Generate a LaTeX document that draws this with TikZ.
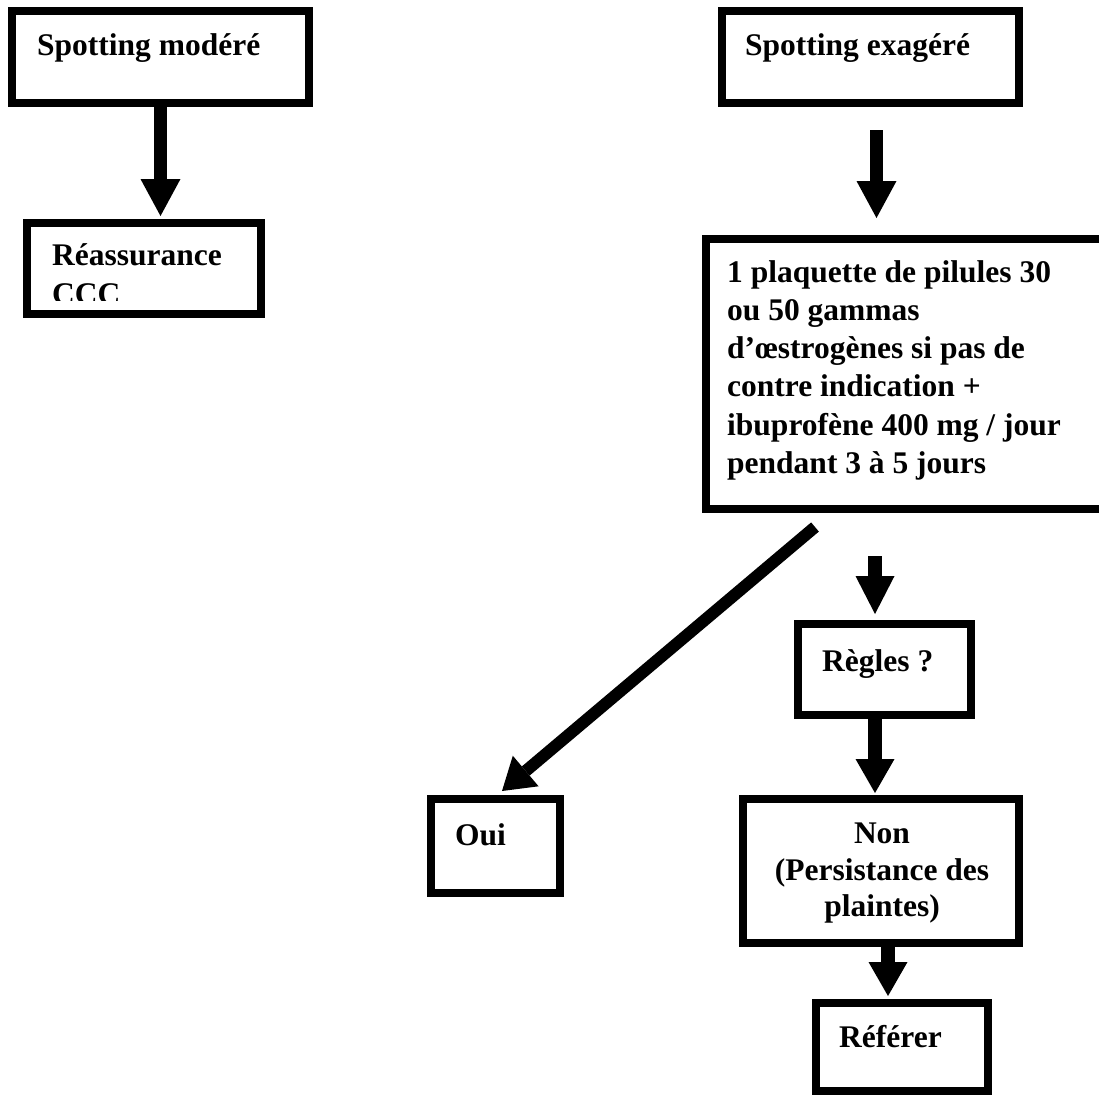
\documentclass[tikz,border=0pt]{standalone}
\usepackage{fontspec}
\setmainfont{Liberation Serif}
\usetikzlibrary{arrows.meta}
\begin{document}
\begin{tikzpicture}[x=1pt,y=-1pt,
  box/.style={draw=black, line width=8pt, rectangle, inner sep=0pt},
  txt/.style={inner sep=0pt, anchor=base west, font=\fontsize{31.5}{37}\selectfont\bfseries},
  ctxt/.style={txt, anchor=base},
  flow/.style={line width=13pt, -{Triangle[width=40pt,length=37pt,line width=0pt]}},
  slant/.style={line width=12pt, -{Triangle[width=40pt,length=31pt,line width=0pt]}}
]
\useasboundingbox (0,0) rectangle (1099,1095);

% boxes
\node[box, minimum width=297pt, minimum height=92pt]  (b1)  at (160.5,57)  {};
\node[box, minimum width=234pt, minimum height=91pt]  (b2)  at (144,268.5) {};
\node[box, minimum width=297pt, minimum height=92pt]  (b3)  at (870.5,57)  {};
\node[box, minimum width=400pt, minimum height=270pt] (b4)  at (906,374)   {};
\node[box, minimum width=173pt, minimum height=91pt]  (rg)  at (884.5,669.5) {};
\node[box, minimum width=129pt, minimum height=94pt]  (oui) at (495.5,846) {};
\node[box, minimum width=276pt, minimum height=144pt] (non) at (881,871)   {};
\node[box, minimum width=172pt, minimum height=88pt]  (ref) at (902,1047)  {};

% texts
\node[txt] (t1) at (37,55) {Spotting modéré};
\node[txt] (t3) at (745,55) {Spotting exagéré};
\node[txt] (t2a) at (52,265) {Réassurance};
\begin{scope}
  \clip (20,215) rectangle (270,300);
  \node[txt] (t2b) at (52,304) {CCC};
\end{scope}
\node[txt] (t4a) at (727,282)   {1 plaquette de pilules 30};
\node[txt] (t4b) at (727,320.3) {ou 50 gammas};
\node[txt] (t4c) at (727,358.6) {d’œstrogènes si pas de};
\node[txt] (t4d) at (727,396.9) {contre indication +};
\node[txt] (t4e) at (727,435.2) {ibuprofène 400 mg / jour};
\node[txt] (t4f) at (727,473.5) {pendant 3 à 5 jours};
\node[txt] (trg) at (822,671) {Règles ?};
\node[txt] (toui) at (455,845) {Oui};
\node[ctxt] (tna) at (882,843) {Non};
\node[ctxt] (tnb) at (882,880) {(Persistance des};
\node[ctxt] (tnc) at (882,916) {plaintes)};
\node[txt] (tref) at (839,1047) {Référer};

% connectors
\draw[flow, shorten >=3pt] (b1.south) -- (b1.south |- b2.north);
\draw[flow, shorten <=23pt, shorten >=17pt]
  ([xshift=6pt]b3.south) -- ([xshift=6pt]b3.south |- b4.north);
\draw[flow, -{Triangle[width=39pt,length=38pt,line width=0pt]}, line width=14pt, shorten <=43pt, shorten >=6pt]
  ([xshift=-9.5pt]rg.north |- b4.south) -- ([xshift=-9.5pt]rg.north);
\draw[flow, -{Triangle[width=39pt,length=34pt,line width=0pt]}, line width=14pt, shorten <=-7pt, shorten >=2pt]
  ([xshift=-9.5pt]rg.south) -- ([xshift=-9.5pt]rg.south |- non.north);
\draw[flow, -{Triangle[width=39pt,length=34pt,line width=0pt]}, line width=14pt, shorten >=3pt]
  ([xshift=7pt]non.south) -- ([xshift=7pt]non.south |- ref.north);
\draw[slant] ([xshift=-91pt,yshift=-14pt]b4.south) -- ([xshift=6.5pt,yshift=4pt]oui.north);
\end{tikzpicture}
\end{document}
